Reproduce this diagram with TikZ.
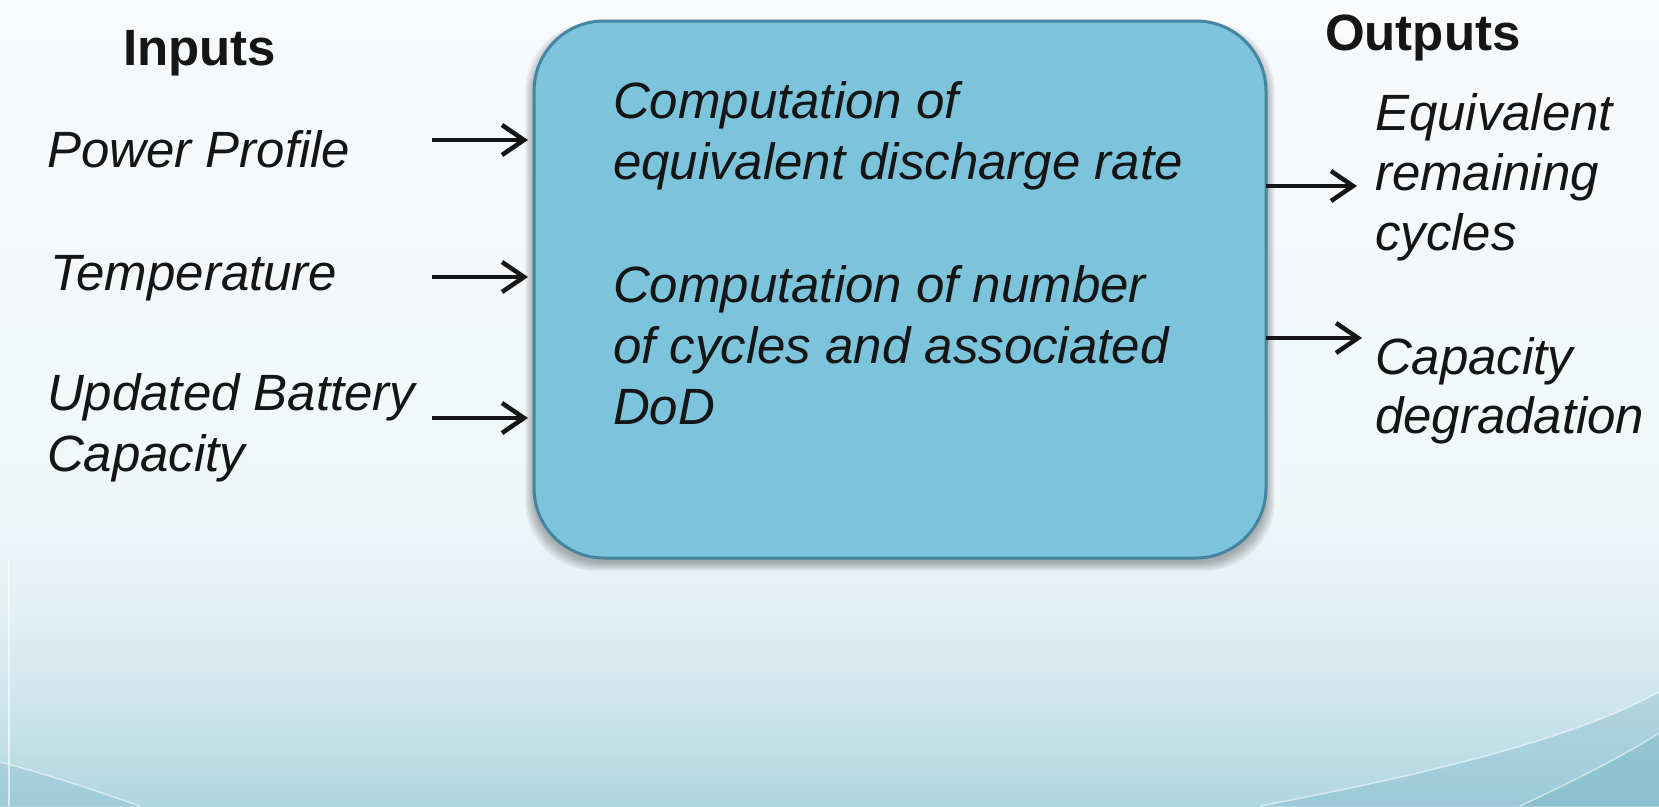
\documentclass[tikz,border=0pt]{standalone}
\usepackage{fontspec}
\setmainfont{Liberation Sans}
\usetikzlibrary{arrows.meta}
\definecolor{boxfill}{HTML}{7CC3DC}
\definecolor{boxline}{HTML}{4585A0}
\definecolor{bgtop}{HTML}{F8FAFC}
\definecolor{bgmidA}{HTML}{F1F7F9}
\definecolor{bgmidB}{HTML}{E4F1F5}
\definecolor{bgmidC}{HTML}{CFE6ED}
\definecolor{bgbot}{HTML}{AFD6E1}
\definecolor{bgdark}{HTML}{6FAEC3}
\definecolor{ink}{HTML}{151515}
\pgfdeclareverticalshading{bgshade}{100bp}{color(0bp)=(bgbot); color(25bp)=(bgbot); color(31.6bp)=(bgmidC); color(37.8bp)=(bgmidB); color(44bp)=(bgmidA); color(75bp)=(bgtop); color(100bp)=(bgtop)}
\newcommand{\stackedlines}[2]{\vtop{\baselineskip=#1\lineskiplimit=-100pt #2}}
\begin{document}
\begin{tikzpicture}[x=1pt,y=-1pt,
  lab/.style={font=\fontsize{51}{58}\selectfont\itshape, text=ink, inner sep=0pt, outer sep=0pt, anchor=base west},
  head/.style={font=\fontsize{51}{58}\selectfont\bfseries, text=ink, inner sep=0pt, outer sep=0pt, anchor=base west},
  arr/.style={-{Straight Barb[length=22pt,width=30pt,line width=4.5pt]}, line width=4pt, draw=ink},
  mainbox/.style={draw=boxline, fill=boxfill, line width=3pt, rounded corners=70pt, minimum width=732pt, minimum height=537pt, outer sep=0pt, inner sep=0pt},
  swoosh/.style={draw=white, opacity=0.55, line width=1.5pt}]
\useasboundingbox (0,0) rectangle (1659,806);
\shade[shading=bgshade] (0,0) rectangle (1659,806);
% corner swooshes
\fill[bgdark, opacity=0.30] (1260,806) .. controls (1450,770) and (1580,735) .. (1659,692) -- (1659,806) -- cycle;
\draw[swoosh] (1260,806) .. controls (1450,770) and (1580,735) .. (1659,692);
\fill[bgdark, opacity=0.35] (1520,806) .. controls (1580,778) and (1630,752) .. (1659,733) -- (1659,806) -- cycle;
\draw[swoosh] (1520,806) .. controls (1580,778) and (1630,752) .. (1659,733);
\fill[bgdark, opacity=0.25] (0,762) .. controls (50,775) and (100,792) .. (140,806) -- (0,806) -- cycle;
\draw[swoosh] (0,762) .. controls (50,775) and (100,792) .. (140,806);
\draw[white, opacity=0.6, line width=1.5pt] (9,560) -- (9,806);
% shadow of the box
\foreach \k in {1,...,9}
  \fill[black, opacity=0.035, rounded corners=70pt] ({534-\k},{30-\k}) rectangle ({1266+\k},{562+\k});
% box
\node[mainbox] (box) at (900,289.5) {};
% box text
\node[lab] (b1) at (613,118) {\stackedlines{61pt}{\hbox{Computation of}\hbox{equivalent discharge rate}}};
\node[lab] (b2) at (613,302) {\stackedlines{61pt}{\hbox{Computation of number}\hbox{of cycles and associated}\hbox{DoD}}};
% headers
\node[head] (hin) at (123,65) {Inputs};
\node[head] (hout) at (1325,50) {Outputs};
% inputs
\node[lab] (in1) at (47,167) {Power Profile};
\node[lab] (in2) at (50,290) {Temperature};
\node[lab] (in3) at (47,410) {\stackedlines{61pt}{\hbox{Updated Battery}\hbox{Capacity}}};
% outputs
\node[lab] (out1) at (1375,130) {\stackedlines{60pt}{\hbox{Equivalent}\hbox{remaining}\hbox{cycles}}};
\node[lab] (out2) at (1375,374) {\stackedlines{59pt}{\hbox{Capacity}\hbox{degradation}}};
% arrow anchors
\coordinate (ia1) at (432,140);
\coordinate (ia2) at (432,277);
\coordinate (ia3) at (432,418);
\coordinate (oa1) at (1357,186);
\coordinate (oa2) at (1362,338);
\draw[arr, shorten >=6pt] (ia1) -- (ia1 -| box.west);
\draw[arr, shorten >=6pt] (ia2) -- (ia2 -| box.west);
\draw[arr, shorten >=6pt] (ia3) -- (ia3 -| box.west);
\draw[arr] (oa1 -| box.east) -- (oa1);
\draw[arr] (oa2 -| box.east) -- (oa2);
\end{tikzpicture}
\end{document}
